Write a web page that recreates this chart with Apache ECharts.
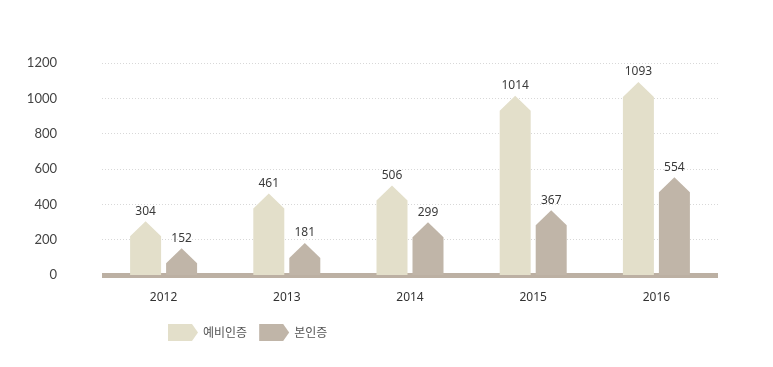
<!DOCTYPE html>
<html><head><meta charset="utf-8">
<script src="https://cdn.jsdelivr.net/npm/echarts@6/dist/echarts.min.js"></script>
<style>html,body{margin:0;padding:0;background:#fff}#c{width:773px;height:367px}</style>
</head><body><div id="c"></div>
<script>
const categories = ['2012','2013','2014','2015','2016'];
const preCert = [304, 461, 506, 1014, 1093];
const mainCert = [152, 181, 299, 367, 554];
const seriesNames = ['예비인증','본인증'];
const yTicks = [0, 1200, 200];

const colors = ['#e3dfca', '#c0b5a8'];
const chart = echarts.init(document.getElementById('c'));

function makeRender(offset, color) {
  return function (params, api) {
    const idx = api.value(0), val = api.value(1);
    const top = api.coord([idx, val]);
    const base = api.coord([idx, 0]);
    const w = 31, roof = 15;
    const cx = top[0] + offset;
    const x0 = cx - w / 2, x1 = cx + w / 2;
    const shoulder = Math.min(top[1] + roof, base[1]);
    return {
      type: 'group',
      children: [
        { type: 'polygon', shape: { points: [[x0, base[1]], [x0, shoulder], [cx, top[1]], [x1, shoulder], [x1, base[1]]] },
          style: { fill: color } },
        { type: 'text', style: { text: String(val), x: cx, y: top[1] - 4, align: 'center', verticalAlign: 'bottom',
          fill: '#3a3a3a', font: '12px "Noto Sans", sans-serif' } }
      ]
    };
  };
}

const iconPath = 'path://M0,0 L24,0 L30,8.5 L24,17 L0,17 Z';

chart.setOption({
  animation: false,
  grid: { left: 102, right: 55, top: 63, bottom: 92 },
  legend: {
    data: seriesNames, bottom: 21, left: 163, itemWidth: 30, itemHeight: 17, itemGap: 12,
    icon: iconPath,
    textStyle: { color: '#555', fontSize: 12, fontFamily: '"Noto Sans CJK KR", sans-serif' }
  },
  xAxis: {
    type: 'category', data: categories,
    axisLine: { lineStyle: { color: '#bcb0a3', width: 5, cap: 'butt' } },
    axisTick: { show: false },
    axisLabel: { color: '#333', fontSize: 12, margin: 17, fontFamily: '"Noto Sans", sans-serif' }
  },
  yAxis: {
    type: 'value', min: yTicks[0], max: yTicks[1], interval: yTicks[2],
    axisLine: { show: false }, axisTick: { show: false },
    axisLabel: { color: '#444', fontSize: 13, margin: 45, fontFamily: 'Lato, sans-serif', formatter: v => String(v) },
    splitLine: { lineStyle: { color: '#d8d8d8', type: [1, 2], width: 1 } }
  },
  series: [
    { name: seriesNames[0], type: 'custom', itemStyle: { color: colors[0] }, renderItem: makeRender(-18, colors[0]),
      encode: { x: 0, y: 1 }, data: preCert.map((v, i) => [i, v]) },
    { name: seriesNames[1], type: 'custom', itemStyle: { color: colors[1] }, renderItem: makeRender(18, colors[1]),
      encode: { x: 0, y: 1 }, data: mainCert.map((v, i) => [i, v]) }
  ]
});
</script></body></html>
